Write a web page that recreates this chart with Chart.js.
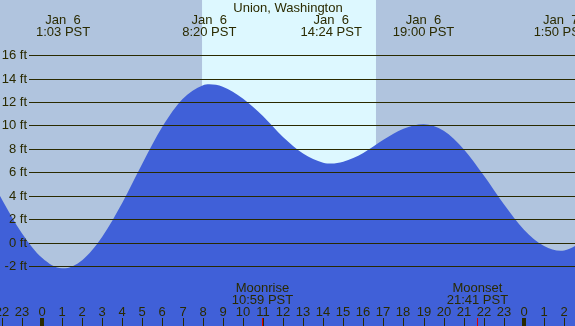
<!DOCTYPE html>
<html>
<head>
<meta charset="utf-8">
<script src="https://cdn.jsdelivr.net/npm/chart.js@4/dist/chart.umd.min.js"></script>
<style>
  body { margin: 0; background: #b0c4de; }
  #wrap { width: 575px; height: 326px; }
</style>
</head>
<body>
<div id="wrap"><canvas id="tideChart" width="575" height="326"></canvas></div>
<script>
// hours since Jan 6 00:00 PST, tide height in feet
const tideHours = [-3, -2, -1, 0, 1, 1.05, 2, 3, 4, 5, 6, 7, 8, 8.33, 9, 10, 11, 12, 13, 14, 14.4,
  15, 16, 17, 18, 19, 20, 21, 22, 23, 24, 25, 25.83, 26, 27];
const tideFeet = [6.8, 3.7, 0.8, -1.3, -2.2, -2.2, -1.5, 0.5, 3.4, 6.75, 9.9, 12.25, 13.4, 13.5, 13.3, 12.3, 10.8, 9.0, 7.6, 6.82, 6.75,
  6.9, 7.65, 8.77, 9.72, 10.1, 9.55, 7.97, 5.72, 3.26, 1.1, -0.3, -0.7, -0.68, 0.13];

const extremeHours = [1.05, 8.33, 14.4, 19.0, 25.83];
const extremeDates = ["Jan  6", "Jan  6", "Jan  6", "Jan  6", "Jan  7"];
const extremeTimes = ["1:03 PST", "8:20 PST", "14:24 PST", "19:00 PST", "1:50 PST"];

const feetTicks = [16, 14, 12, 10, 8, 6, 4, 2, 0, -2];
const hourTicks = [-2, -1, 0, 1, 2, 3, 4, 5, 6, 7, 8, 9, 10, 11, 12, 13, 14, 15, 16, 17, 18, 19, 20, 21, 22, 23, 24, 25, 26];
const hourLabels = ["22", "23", "0", "1", "2", "3", "4", "5", "6", "7", "8", "9", "10", "11", "12",
  "13", "14", "15", "16", "17", "18", "19", "20", "21", "22", "23", "0", "1", "2"];

const sunrise = 7.97, sunset = 16.63;
const moonEvents = [
  { hour: 10.98, name: "Moonrise", time: "10:59 PST" },
  { hour: 21.68, name: "Moonset", time: "21:41 PST" },
];

const ink = "#2a2a00";
const font = "13px 'Liberation Sans', Arial, sans-serif";

const tidePlugin = {
  id: "tideDecor",
  beforeDatasetsDraw(chart) {
    const { ctx, scales: { x } } = chart;
    ctx.save();
    ctx.fillStyle = "#b0c4de";
    ctx.fillRect(0, 0, 575, 326);
    const a = x.getPixelForValue(sunrise), b = x.getPixelForValue(sunset);
    ctx.fillStyle = "#ddf8ff";
    ctx.fillRect(a, 0, b - a, 326);
    ctx.restore();
  },
  afterDatasetsDraw(chart) {
    const { ctx, scales: { x, y } } = chart;
    ctx.save();
    ctx.font = font;
    ctx.fillStyle = ink;
    ctx.strokeStyle = ink;
    ctx.lineWidth = 1;

    // height grid and labels
    ctx.textAlign = "right";
    ctx.textBaseline = "middle";
    feetTicks.forEach((f) => {
      const py = Math.round(y.getPixelForValue(f)) + 0.5;
      ctx.beginPath();
      ctx.moveTo(29, py);
      ctx.lineTo(575, py);
      ctx.stroke();
      ctx.fillText(f + " ft", 27, py);
    });

    // title
    ctx.textAlign = "center";
    ctx.textBaseline = "alphabetic";
    ctx.fillText("Union, Washington", 288, 12);

    // high/low labels
    extremeHours.forEach((h, i) => {
      const px = x.getPixelForValue(h);
      ctx.fillText(extremeDates[i], px, 24);
      ctx.fillText(extremeTimes[i], px, 36);
    });

    // moon events
    moonEvents.forEach((m) => {
      const px = x.getPixelForValue(m.hour);
      ctx.fillText(m.name, px, 292);
      ctx.fillText(m.time, px, 304);
      ctx.fillStyle = "#e00000";
      ctx.fillRect(Math.round(px), 318, 1, 8);
      ctx.fillStyle = ink;
    });

    // hour ticks and labels
    hourTicks.forEach((h, i) => {
      const px = Math.round(x.getPixelForValue(h));
      ctx.fillText(hourLabels[i], px, 316);
      if (hourLabels[i] === "0") ctx.fillRect(px - 2, 318, 4, 8);
      else ctx.fillRect(px, 318, 1, 8);
    });
    ctx.restore();
  },
};

new Chart(document.getElementById("tideChart"), {
  type: "line",
  data: {
    datasets: [{
      data: tideHours.map((h, i) => ({ x: h, y: tideFeet[i] })),
      borderWidth: 0,
      borderColor: "rgba(0,0,0,0)",
      backgroundColor: "#4060d8",
      fill: "start",
      pointRadius: 0,
      cubicInterpolationMode: "monotone",
    }],
  },
  options: {
    responsive: false,
    animation: false,
    layout: { padding: 0 },
    plugins: { legend: { display: false }, tooltip: { enabled: false } },
    scales: {
      x: { type: "linear", display: false, min: -2.09, max: 26.54 },
      y: { type: "linear", display: false, min: -7.12, max: 20.7 },
    },
  },
  plugins: [tidePlugin],
});
</script>
</body>
</html>
